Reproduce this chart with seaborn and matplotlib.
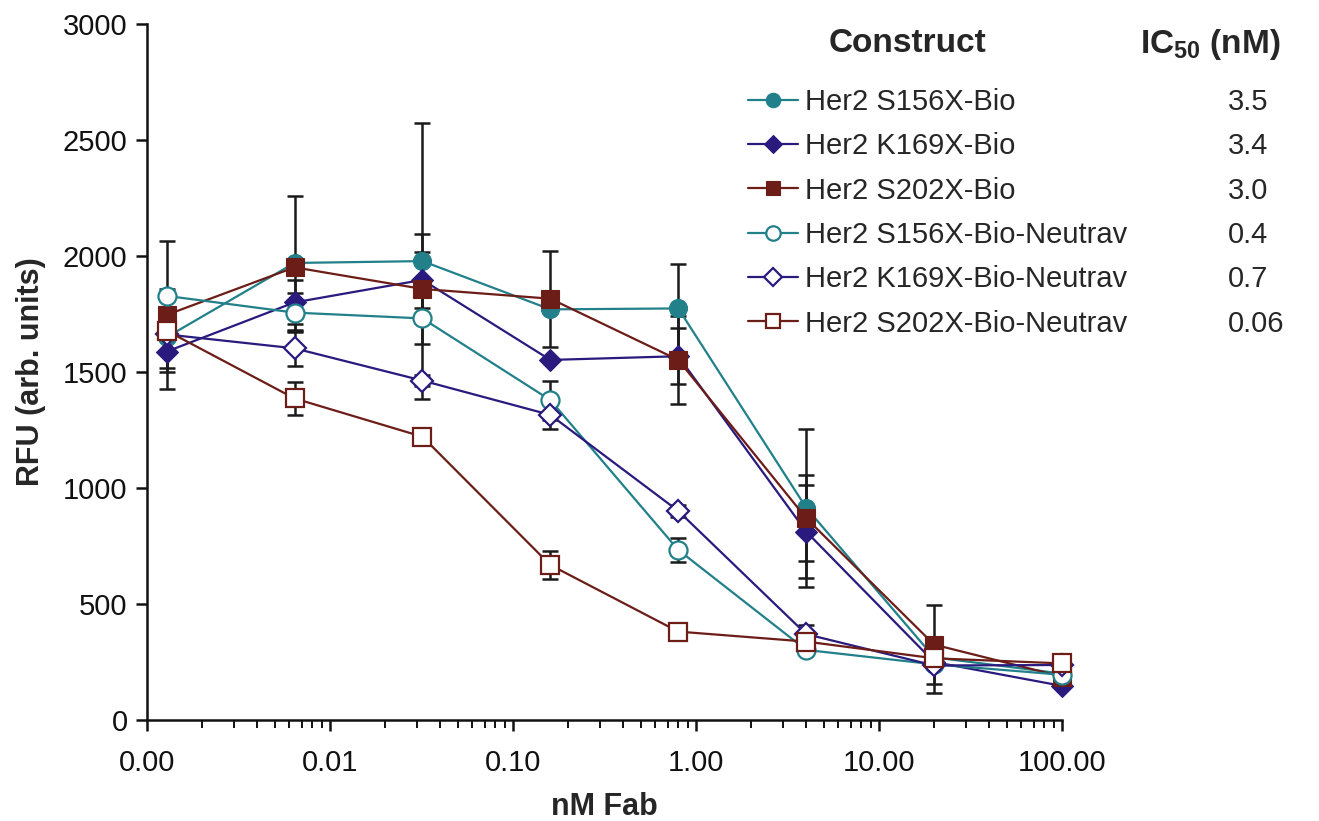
import numpy as np
import matplotlib
matplotlib.use("Agg")
import matplotlib.pyplot as plt
import seaborn as sns
from matplotlib.ticker import FixedLocator, FuncFormatter, LogLocator

sns.set_style("ticks")
plt.rcParams['font.family'] = ['Liberation Sans', 'DejaVu Sans']
plt.rcParams['mathtext.fontset'] = 'custom'
plt.rcParams['mathtext.rm'] = 'Liberation Sans'
plt.rcParams['mathtext.bf'] = 'Liberation Sans:bold'

# Fab concentration (nM), 5-fold dilutions
conc = [0.00128, 0.0064, 0.032, 0.16, 0.8, 4, 20, 100]

constructs = ["Her2 S156X-Bio", "Her2 K169X-Bio", "Her2 S202X-Bio",
              "Her2 S156X-Bio-Neutrav", "Her2 K169X-Bio-Neutrav", "Her2 S202X-Bio-Neutrav"]
ic50 = ["3.5", "3.4", "3.0", "0.4", "0.7", "0.06"]

s156_bio = [1650, 1970, 1978, 1770, 1774, 915, 270, 200]
k169_bio = [1588, 1800, 1897, 1552, 1568, 812, 250, 147]
s202_bio = [1746, 1951, 1858, 1816, 1552, 870, 325, 187]
s156_nv = [1828, 1756, 1731, 1379, 733, 302, 240, 195]
k169_nv = [1662, 1602, 1463, 1315, 901, 370, 235, 237]
s202_nv = [1678, 1386, 1221, 668, 381, 338, 266, 244]

s156_bio_err = [0, 290, 595, 0, 190, 340, 0, 0]
k169_bio_err = [71, 95, 122, 0, 120, 200, 0, 0]
s202_bio_err = [320, 0, 237, 207, 190, 185, 170, 0]
s156_nv_err = [0, 85, 0, 84, 50, 0, 0, 0]
k169_nv_err = [0, 75, 25, 62, 25, 40, 118, 0]
s202_nv_err = [178, 73, 0, 60, 0, 0, 0, 0]

values = [s156_bio, k169_bio, s202_bio, s156_nv, k169_nv, s202_nv]
errors = [s156_bio_err, k169_bio_err, s202_bio_err, s156_nv_err, k169_nv_err, s202_nv_err]

teal = "#21808a"
indigo = "#2a1a7e"
maroon = "#6c1d18"
colors = [teal, indigo, maroon, teal, indigo, maroon]
markers = ["o", "D", "s", "o", "D", "s"]
msizes = [13, 11, 13, 13, 11, 13]
filled = [True, True, True, False, False, False]

fig = plt.figure(figsize=(13.19, 8.21), dpi=100)
ax = fig.add_axes([147 / 1319, 1 - 720 / 821, 915 / 1319, 696 / 821])

# error bars first so markers sit on top
for vals, err in zip(values, errors):
    x = np.array(conc)
    y = np.array(vals, dtype=float)
    e = np.array(err, dtype=float)
    m = e > 0
    ax.errorbar(x[m], y[m], yerr=e[m], fmt="none", ecolor="#1a1a1a",
                elinewidth=1.8, capsize=5.5, capthick=1.8, zorder=2, clip_on=False)

for i, (vals, name) in enumerate(zip(values, constructs)):
    sns.lineplot(x=conc, y=vals, ax=ax, color=colors[i], linewidth=1.6,
                 marker=markers[i], markersize=msizes[i],
                 markerfacecolor=colors[i] if filled[i] else "white",
                 markeredgecolor=colors[i], markeredgewidth=1.6 if not filled[i] else 0.8,
                 label=name, zorder=3 + i, clip_on=False)

ax.set_xscale("log")
ax.set_xlim(0.001, 100)
ax.set_ylim(0, 3000)
ax.xaxis.set_major_locator(FixedLocator([0.001, 0.01, 0.1, 1, 10, 100]))
ax.xaxis.set_major_formatter(FuncFormatter(lambda v, p: f"{v:.2f}"))
ax.xaxis.set_minor_locator(LogLocator(base=10, subs=np.arange(2, 10)))
ax.xaxis.set_minor_formatter(FuncFormatter(lambda v, p: ""))
ax.set_yticks(range(0, 3001, 500))

for s in ["top", "right"]:
    ax.spines[s].set_visible(False)
for s in ["left", "bottom"]:
    ax.spines[s].set_linewidth(1.8)
    ax.spines[s].set_color("#111111")
ax.tick_params(axis="both", which="major", direction="out", length=8, width=1.8,
               labelsize=21, colors="#111111", pad=6)
ax.tick_params(axis="x", which="major", pad=13)
ax.tick_params(axis="x", which="minor", direction="out", length=6, width=1.4, colors="#111111")

ax.set_xlabel("nM Fab", fontsize=22, fontweight="bold", labelpad=11)
ax.set_ylabel("RFU (arb. units)", fontsize=22, fontweight="bold", labelpad=12)

leg = ax.legend(loc="upper left", bbox_to_anchor=(748 / 1319, 1 - 88 / 821),
                bbox_transform=fig.transFigure, frameon=False, fontsize=21,
                handlelength=1.7, handletextpad=0.25, labelspacing=0.56,
                markerscale=0.8, borderpad=0, borderaxespad=0)

fig.text(907 / 1319, 1 - 44 / 821, "Construct", fontsize=24, fontweight="bold",
         ha="center", va="center")
fig.text(1140 / 1319, 1 - 44 / 821, r"$\mathbf{IC_{50}}$ (nM)", fontsize=24,
         fontweight="bold", ha="left", va="center")

fig.canvas.draw()
inv = fig.transFigure.inverted()
for t, val in zip(leg.get_texts(), ic50):
    bb = t.get_window_extent()
    yc = inv.transform((0, (bb.y0 + bb.y1) / 2))[1]
    fig.text(1228 / 1319, yc, val, fontsize=21, ha="left", va="center")

fig.savefig("out.png", dpi=100)
